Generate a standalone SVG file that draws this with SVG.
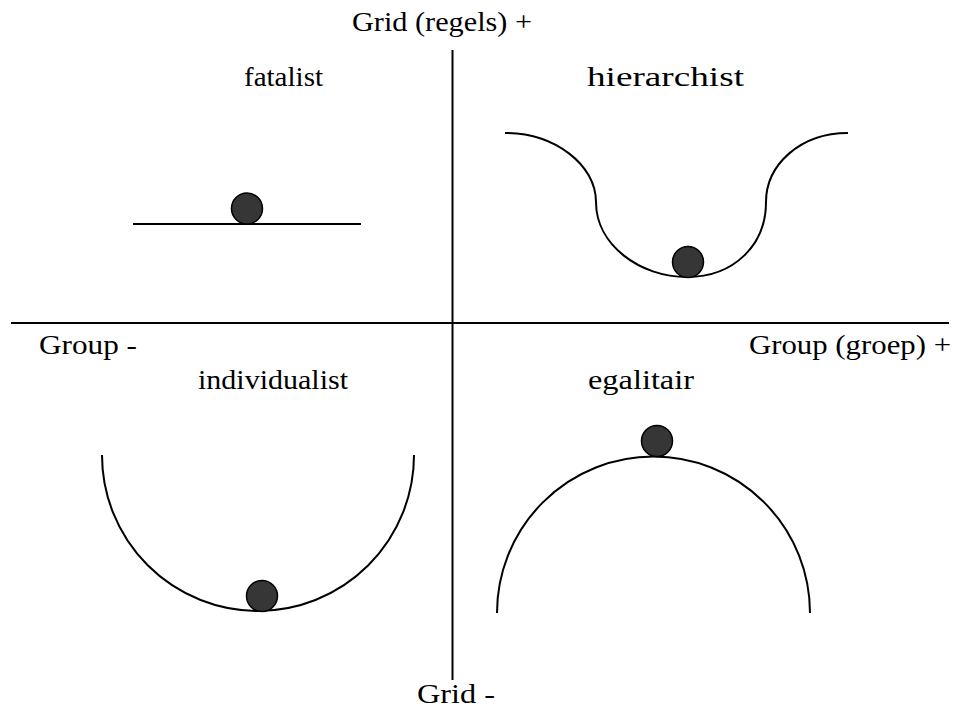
<svg xmlns="http://www.w3.org/2000/svg" width="954" height="720" viewBox="0 0 954 720">
<style>
  .lbl { font-family: "Liberation Serif", "Times New Roman", serif; font-size: 27px; fill: #000; }
  .ln { fill: none; stroke: #000; stroke-width: 2; }
  .ball { fill: #363636; stroke: #000; stroke-width: 1.5; }
</style>
<rect width="954" height="720" fill="#fff"/>
<g id="axes">
  <line class="ln" x1="452.5" y1="50" x2="452.5" y2="680"/>
  <line class="ln" x1="11" y1="323" x2="949" y2="323"/>
</g>
<g id="axis-labels">
  <text class="lbl" x="352" y="31" textLength="180" lengthAdjust="spacingAndGlyphs">Grid (regels) +</text>
  <text class="lbl" x="417" y="703" textLength="78" lengthAdjust="spacingAndGlyphs">Grid -</text>
  <text class="lbl" x="39" y="354" textLength="98" lengthAdjust="spacingAndGlyphs">Group -</text>
  <text class="lbl" x="749" y="354" textLength="202" lengthAdjust="spacingAndGlyphs">Group (groep) +</text>
</g>
<g id="fatalist">
  <text class="lbl" x="244" y="86" textLength="79" lengthAdjust="spacingAndGlyphs">fatalist</text>
  <line class="ln" x1="133" y1="224" x2="361" y2="224"/>
  <circle class="ball" cx="247" cy="208.5" r="15.5"/>
</g>
<g id="hierarchist">
  <text class="lbl" x="587" y="86" textLength="157" lengthAdjust="spacingAndGlyphs">hierarchist</text>
  <path class="ln" d="M505,133 C555,133 596,165 596,202 C596,245 640,277 687,277 C734,277 766,245 766,202 C766,165 800,133 848,133"/>
  <circle class="ball" cx="688" cy="262" r="15.5"/>
</g>
<g id="individualist">
  <text class="lbl" x="198" y="389" textLength="150" lengthAdjust="spacingAndGlyphs">individualist</text>
  <path class="ln" d="M102,455 A156,156 0 0 0 414,455"/>
  <circle class="ball" cx="262" cy="596" r="15.5"/>
</g>
<g id="egalitair">
  <text class="lbl" x="588" y="389" textLength="106" lengthAdjust="spacingAndGlyphs">egalitair</text>
  <path class="ln" d="M497,613 A156.5,156.5 0 0 1 810,613"/>
  <circle class="ball" cx="657" cy="441" r="15.5"/>
</g>
</svg>
